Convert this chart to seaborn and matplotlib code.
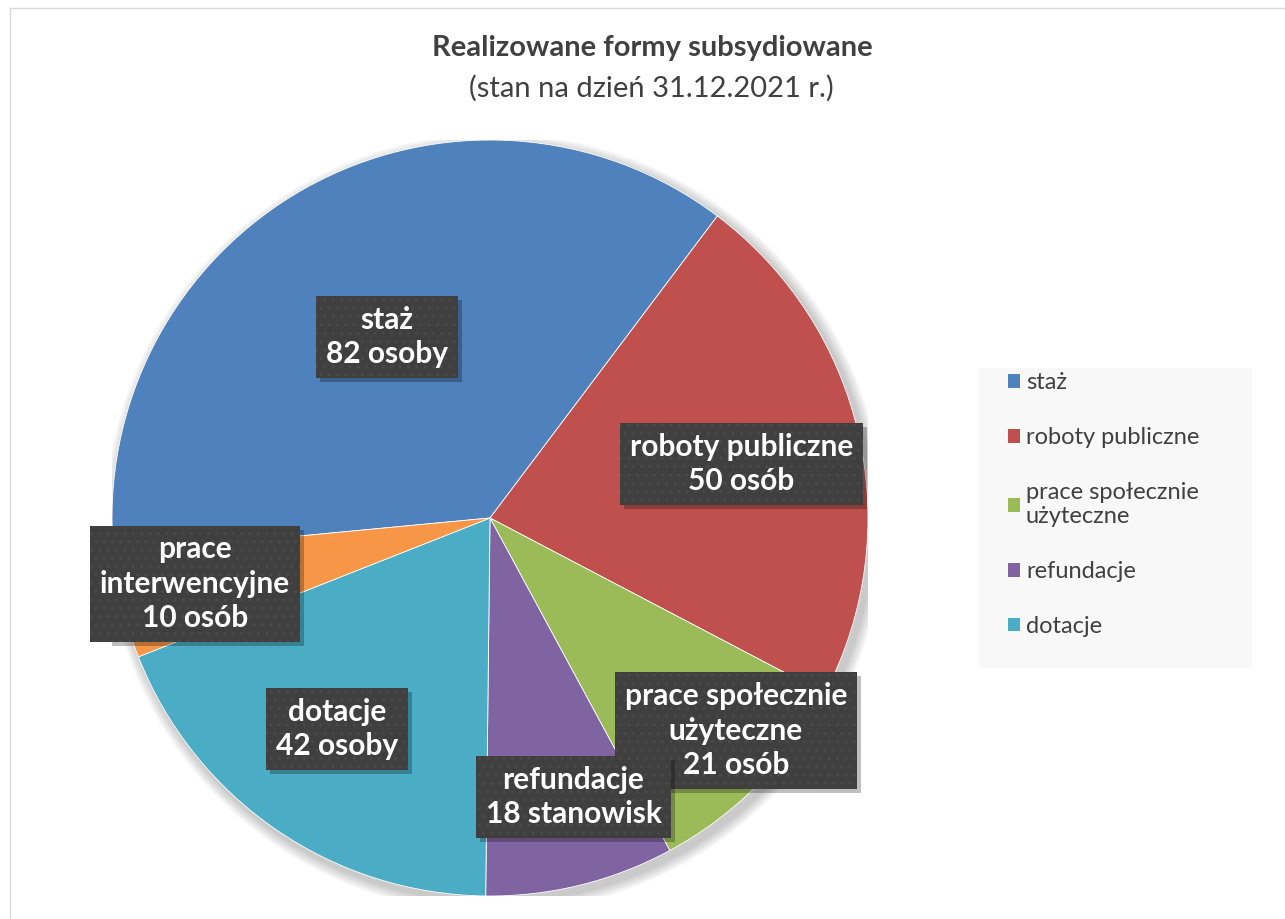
import numpy as np
import matplotlib
matplotlib.use("Agg")
import matplotlib.pyplot as plt
import matplotlib.transforms as mtransforms
from matplotlib.patches import Rectangle, Circle, Patch
import seaborn as sns

# ---- data ----
categories = ["staż", "roboty publiczne", "prace społecznie\nużyteczne",
              "refundacje", "dotacje", "prace interwencyjne"]
values = [82, 50, 21, 18, 42, 10]
label_texts = ["staż\n82 osoby", "roboty publiczne\n50 osób",
               "prace społecznie\nużyteczne\n21 osób", "refundacje\n18 stanowisk",
               "dotacje\n42 osoby", "prace\ninterwencyjne\n10 osób"]
legend_categories = categories[:5]
colors = ["#4F81BD", "#C0504D", "#9BBB59", "#8064A2", "#4BACC6", "#F79646"]
title = "Realizowane formy subsydiowane"
subtitle = "(stan na dzień 31.12.2021 r.)"

# label layout (radial fraction, angle tweak in degrees)
label_radius = [0.55, 0.68, 0.86, 0.77, 0.69, 0.80]
label_dtheta = [0.4, -0.6, 3.8, 2.8, -1.4, -0.9]

sns.set_theme(style="white")
plt.rcParams["font.family"] = ["Lato", "DejaVu Sans"]

W, H = 1285, 919
fig = plt.figure(figsize=(W / 100, H / 100), dpi=100)
fig.patch.set_facecolor("white")

# outer chart border (left & top visible)
fig.patches.append(Rectangle((10 / W, -0.05), 1.2, (H - 8) / H + 0.05,
                             transform=fig.transFigure, fill=False,
                             edgecolor="#D9D9D9", linewidth=1.0, zorder=0))

cx, cy, R = 490, 518, 378
ax = fig.add_axes([(cx - R) / W, (H - cy - R) / H, 2 * R / W, 2 * R / H])

# soft shadow of the pie
for i in range(5):
    sh = Circle((0.012, -0.014), 1.0 + 0.006 * (i + 1), facecolor="#000000",
                alpha=0.045, edgecolor="none", zorder=0)
    ax.add_patch(sh)

wedges, _ = ax.pie(values, colors=colors, startangle=185.4, counterclock=False,
                   radius=1.0, wedgeprops=dict(linewidth=0.6, edgecolor="white"))
for w in wedges:
    w.set_zorder(2)
ax.set_xlim(-1, 1)
ax.set_ylim(-1, 1)
ax.set_aspect("equal")
ax.axis("off")

# data labels
LFS = 21.5
z = 5
label_artists = []
for w, txt, r, dth in zip(wedges, label_texts, label_radius, label_dtheta):
    mid = np.deg2rad((w.theta1 + w.theta2) / 2 + dth)
    x, y = r * np.cos(mid), r * np.sin(mid)
    t = ax.text(x, y, txt, ha="center", va="center", multialignment="center",
                fontsize=LFS, fontweight="bold", color="white", linespacing=1.28,
                bbox=dict(boxstyle="square,pad=0.33", facecolor="#3F3F3F",
                          edgecolor="#4A4A4A", linewidth=0, hatch=".."),
                zorder=z + 1)
    label_artists.append((t, z))
    z += 2

# shadows behind the label boxes
fig.canvas.draw()
for t, zz in label_artists:
    bb = t.get_bbox_patch().get_window_extent()
    ax.add_patch(Rectangle((bb.x0 + 4, bb.y0 - 4), bb.width, bb.height,
                           transform=mtransforms.IdentityTransform(),
                           facecolor="#000000", alpha=0.25, edgecolor="none",
                           zorder=zz))

# titles
fig.text(652 / W, 1 - 48 / H, title, ha="center", va="center", fontsize=21,
         fontweight="bold", color="#404040")
fig.text(651 / W, 1 - 88 / H, subtitle, ha="center", va="center", fontsize=21,
         color="#404040")

# legend background
fig.patches.append(Rectangle((978 / W, 1 - 668 / H), (1252 - 978) / W, 300 / H,
                             transform=fig.transFigure, facecolor="#F8F8F8",
                             edgecolor="none", zorder=1))
handles = [Patch(facecolor=c, edgecolor="none") for c in colors[:5]]
leg = fig.legend(handles, legend_categories, loc="upper left",
                 bbox_to_anchor=(998.5 / W, 1 - 363 / H), frameon=False,
                 fontsize=17, labelcolor="#404040", handlelength=0.51,
                 handleheight=0.51, handletextpad=0.25, labelspacing=1.43,
                 borderaxespad=0)
leg.set_zorder(3)

fig.savefig("out.png", dpi=100)
